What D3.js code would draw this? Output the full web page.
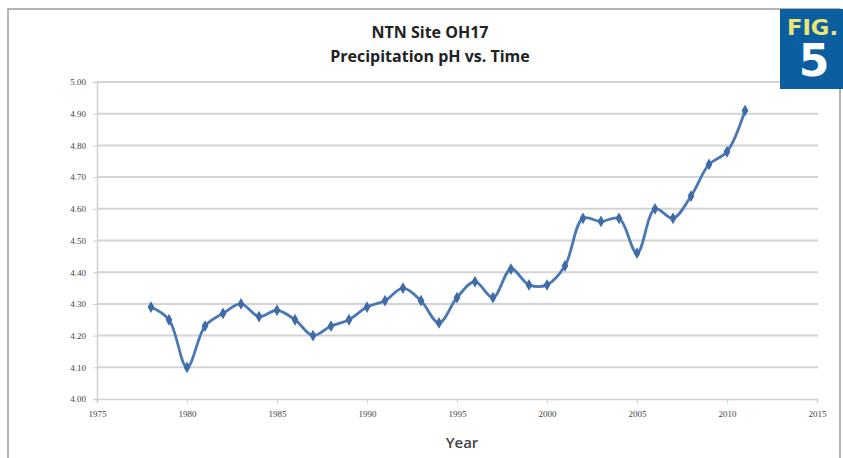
<!DOCTYPE html>
<html>
<head>
<meta charset="utf-8">
<script src="https://cdn.jsdelivr.net/npm/d3@7"></script>
<style>
  body { margin: 0; background: #fff; }
</style>
</head>
<body>
<svg id="my-svg"></svg>
<script>
// precipitation pH at NTN site OH17
const years = [1978, 1979, 1980, 1981, 1982, 1983, 1984, 1985, 1986, 1987, 1988, 1989,
  1990, 1991, 1992, 1993, 1994, 1995, 1996, 1997, 1998, 1999, 2000, 2001, 2002, 2003,
  2004, 2005, 2006, 2007, 2008, 2009, 2010, 2011];
const ph = [4.29, 4.25, 4.10, 4.23, 4.27, 4.30, 4.26, 4.28, 4.25, 4.20, 4.23, 4.25,
  4.29, 4.31, 4.35, 4.31, 4.24, 4.32, 4.37, 4.32, 4.41, 4.36, 4.36, 4.42, 4.57, 4.56,
  4.57, 4.46, 4.60, 4.57, 4.64, 4.74, 4.78, 4.91];
const xTicks = [1975, 1980, 1985, 1990, 1995, 2000, 2005, 2010, 2015];
const yTicks = [4.0, 4.1, 4.2, 4.3, 4.4, 4.5, 4.6, 4.7, 4.8, 4.9, 5.0];
const titleLines = ["NTN Site OH17", "Precipitation pH vs. Time"];

const width = 843, height = 458;

const svg = d3.select("#my-svg")
    .attr("width", width)
    .attr("height", height);

const data = years.map((y, i) => ({year: y, ph: ph[i]}));

const x = d3.scaleLinear()
    .domain([1975, 2015])
    .range([97, 817]);

const y = d3.scaleLinear()
    .domain([4.0, 5.0])
    .range([399, 82]);

// chart frame
svg.append("rect")
    .attr("x", 8).attr("y", 9)
    .attr("width", 832).attr("height", 460)
    .attr("fill", "#fff")
    .attr("stroke", "#9a9a9a")
    .attr("stroke-width", 1.5);

// gridlines
svg.append("g")
    .selectAll("line")
    .data(yTicks.slice(1))
    .join("line")
      .attr("x1", x(1975)).attr("x2", x(2015) + 1)
      .attr("y1", d => y(d)).attr("y2", d => y(d))
      .attr("stroke", "#d4d4d4")
      .attr("stroke-width", 2);

// y axis
const yAxis = svg.append("g")
    .attr("transform", `translate(${x(1975)},0)`)
    .call(d3.axisLeft(y).tickValues(yTicks).tickFormat(d3.format(".2f")).tickSize(4).tickPadding(7));
yAxis.select(".domain").attr("stroke", "#d0d0d0").attr("stroke-width", 1.5);
yAxis.selectAll(".tick line").attr("stroke", "#d0d0d0");
yAxis.selectAll("text")
    .style("font-family", "'Liberation Serif', serif")
    .style("font-size", "9px")
    .attr("fill", "#444");

// x axis
const xAxis = svg.append("g")
    .attr("transform", `translate(0,${y(4.0)})`)
    .call(d3.axisBottom(x).tickValues(xTicks).tickFormat(d3.format("d")).tickSize(4).tickPadding(8));
xAxis.select(".domain").attr("stroke", "#d0d0d0").attr("stroke-width", 1.5);
xAxis.selectAll(".tick line").attr("stroke", "#d0d0d0");
xAxis.selectAll("text")
    .style("font-family", "'Liberation Serif', serif")
    .style("font-size", "9px")
    .attr("fill", "#444");

// smoothed line
const line = d3.line()
    .x(d => x(d.year))
    .y(d => y(d.ph))
    .curve(d3.curveCatmullRom.alpha(0.5));

svg.append("path")
    .datum(data)
    .attr("fill", "none")
    .attr("stroke", "#4a78b4")
    .attr("stroke-width", 2.8)
    .attr("d", line);

// diamond markers
svg.append("g")
    .selectAll("path")
    .data(data)
    .join("path")
      .attr("transform", d => `translate(${x(d.year)},${y(d.ph)})`)
      .attr("d", d3.symbol(d3.symbolDiamond, 40))
      .attr("fill", "#3f6ca8");

// title
svg.append("text")
    .attr("text-anchor", "middle")
    .attr("x", 430)
    .style("font-family", "'Open Sans', sans-serif")
    .style("font-weight", "bold")
    .style("font-size", "16px")
    .attr("fill", "#222")
    .selectAll("tspan")
    .data(titleLines)
    .join("tspan")
      .attr("x", 430)
      .attr("y", (d, i) => 38 + i * 24)
      .text(d => d);

// x axis title
svg.append("text")
    .attr("text-anchor", "middle")
    .attr("x", 462)
    .attr("y", 448)
    .style("font-family", "'Open Sans', sans-serif")
    .style("font-weight", "600")
    .style("font-size", "15px")
    .attr("fill", "#444")
    .text("Year");

// FIG. 5 badge
svg.append("rect")
    .attr("x", 780).attr("y", 9)
    .attr("width", 63).attr("height", 80)
    .attr("fill", "#0b5fa1");

svg.append("text")
    .attr("x", 787)
    .attr("y", 35)
    .attr("textLength", 51)
    .attr("lengthAdjust", "spacingAndGlyphs")
    .style("font-family", "'DejaVu Sans Condensed', 'DejaVu Sans', sans-serif")
    .style("font-weight", "bold")
    .style("font-size", "22px")
    .attr("fill", "#ece574")
    .text("FIG.");

svg.append("text")
    .attr("text-anchor", "middle")
    .attr("x", 814)
    .attr("y", 76)
    .style("font-family", "'DejaVu Sans', sans-serif")
    .style("font-weight", "bold")
    .style("font-size", "44px")
    .attr("fill", "#fff")
    .text("5");
</script>
</body>
</html>
